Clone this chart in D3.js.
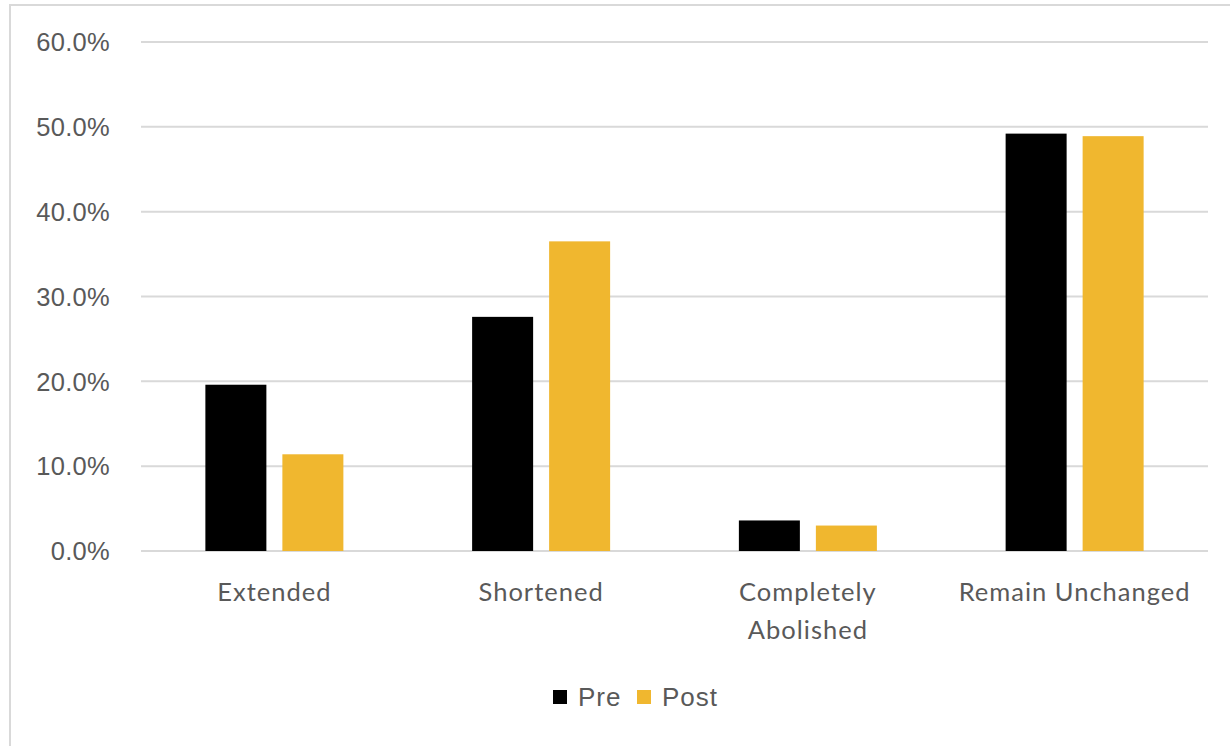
<!DOCTYPE html>
<html>
<head>
<meta charset="utf-8">
<script src="https://cdn.jsdelivr.net/npm/d3@7"></script>
<style>
html,body{margin:0;padding:0;background:#fff;}
svg{display:block;}
</style>
</head>
<body>
<svg id="chart" width="1230" height="746"></svg>
<script>
const categories = [["Extended"], ["Shortened"], ["Completely", "Abolished"], ["Remain Unchanged"]];
const seriesNames = ["Pre", "Post"];
const preValues = [0.196, 0.276, 0.036, 0.492];
const postValues = [0.114, 0.365, 0.030, 0.489];
const tickValues = [0, 0.1, 0.2, 0.3, 0.4, 0.5, 0.6];
const colors = ["#000000", "#F0B72F"];

const svg = d3.select("#chart");
const W = 1230, H = 746;
const margin = {left: 141, right: 22, top: 42, bottom: 195};
const plotW = W - margin.left - margin.right;
const plotH = H - margin.top - margin.bottom;

// frame
svg.append("rect").attr("x", 10).attr("y", 5).attr("width", 1240).attr("height", 760)
  .attr("fill", "#fff").attr("stroke", "#d9d9d9").attr("stroke-width", 2);

const g = svg.append("g").attr("transform", `translate(${margin.left},${margin.top})`);

const x = d3.scaleBand().domain(d3.range(categories.length)).range([0, plotW]);
const y = d3.scaleLinear().domain([0, 0.6]).range([plotH, 0]);

// gridlines
g.selectAll("line.grid").data(tickValues).join("line")
  .attr("x1", 0).attr("x2", plotW)
  .attr("y1", d => y(d)).attr("y2", d => y(d))
  .attr("stroke", "#d9d9d9").attr("stroke-width", 2);

// y tick labels
g.selectAll("text.ytick").data(tickValues).join("text")
  .attr("x", -31).attr("y", d => y(d))
  .attr("dy", "0.36em")
  .attr("text-anchor", "end")
  .attr("font-family", "Liberation Sans, Arial, sans-serif")
  .attr("font-size", 25.5)
  .attr("letter-spacing", "0.3px")
  .attr("fill", "#595959")
  .text(d => d3.format(".1%")(d));

// bars
const barW = 61, gap = 16;
const data = [];
categories.forEach((c, i) => {
  data.push({i, s: 0, v: preValues[i]});
  data.push({i, s: 1, v: postValues[i]});
});
g.selectAll("rect.bar").data(data).join("rect")
  .attr("x", d => x(d.i) + x.bandwidth() / 2 + (d.s === 0 ? -(barW + gap / 2) : gap / 2))
  .attr("width", barW)
  .attr("y", d => y(d.v))
  .attr("height", d => y(0) - y(d.v))
  .attr("fill", d => colors[d.s]);

// category labels
const labels = g.selectAll("text.cat").data(categories).join("text")
  .attr("text-anchor", "middle")
  .attr("font-family", "Lato, sans-serif")
  .attr("font-size", 25.5)
  .attr("letter-spacing", "1px")
  .attr("fill", "#595959");
labels.each(function(d, i) {
  const t = d3.select(this);
  d.forEach((line, k) => {
    t.append("tspan").attr("x", x(i) + x.bandwidth() / 2).attr("y", plotH + 50 + k * 38).text(line);
  });
});

// legend
const legend = svg.append("g").attr("transform", "translate(553,690)");
seriesNames.forEach((s, k) => {
  const off = k === 0 ? 0 : 84;
  legend.append("rect").attr("x", off).attr("y", 0).attr("width", 14).attr("height", 14).attr("fill", colors[k]);
  legend.append("text").attr("x", off + 25).attr("y", 7).attr("dy", "0.36em")
    .attr("font-family", "Liberation Sans, Arial, sans-serif")
    .attr("font-size", 26).attr("letter-spacing", "1px").attr("fill", "#595959").text(s);
});
</script>
</body>
</html>
